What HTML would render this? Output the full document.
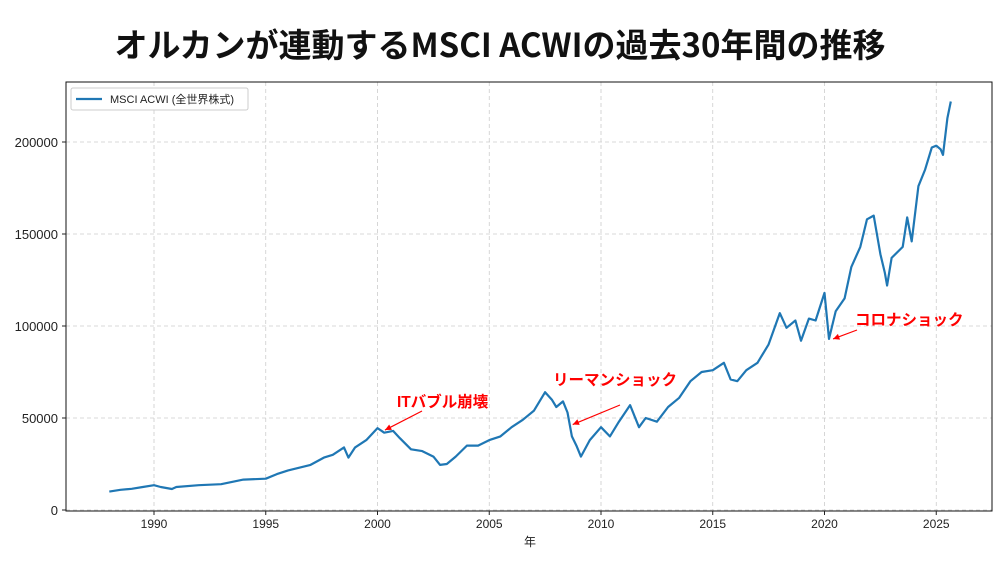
<!DOCTYPE html>
<html><head><meta charset="utf-8">
<style>
body{margin:0;background:#fff;width:1000px;height:562px;overflow:hidden}
svg{display:block;font-family:"Liberation Sans","Noto Sans CJK JP",sans-serif}
</style></head>
<body>
<svg id="chart" width="1000" height="562">
<text x="500" y="57" text-anchor="middle" font-size="33" font-weight="bold" fill="#111" style="font-family:'Noto Sans CJK JP',sans-serif">オルカンが連動するMSCI ACWIの過去30年間の推移</text>
<g id="grid"></g>
<rect x="66" y="82" width="926" height="429" fill="none" stroke="#111" stroke-width="1"/>
<g id="ticks"></g>
<path id="series" fill="none" stroke="#1f77b4" stroke-width="2.2" stroke-linejoin="round"/>
<g id="ann"></g>
<g>
<rect x="71" y="88" width="177" height="22" fill="#fff" stroke="#ccc" rx="2"/>
<line x1="76" y1="99" x2="102" y2="99" stroke="#1f77b4" stroke-width="2.2"/>
<text x="110" y="103" font-size="11" fill="#222">MSCI ACWI (全世界株式)</text>
</g>
<text x="530" y="546" font-size="12" text-anchor="middle" fill="#222">年</text>
</svg>
<script>
const years=[1988,1988.5,1989,1989.5,1990,1990.3,1990.8,1991,1992,1993,1994,1995,1995.5,1996,1997,1997.6,1998,1998.5,1998.7,1999,1999.5,2000,2000.3,2000.7,2001,2001.5,2002,2002.5,2002.8,2003.1,2003.5,2004,2004.5,2005,2005.5,2006,2006.5,2007,2007.5,2007.8,2008,2008.3,2008.5,2008.7,2008.9,2009.1,2009.5,2010,2010.4,2010.8,2011.3,2011.7,2012,2012.5,2013,2013.5,2014,2014.5,2015,2015.5,2015.8,2016.1,2016.5,2017,2017.5,2018,2018.3,2018.7,2018.95,2019.3,2019.6,2020,2020.2,2020.5,2020.9,2021.2,2021.6,2021.9,2022.2,2022.5,2022.7,2022.8,2023,2023.5,2023.7,2023.9,2024.2,2024.5,2024.8,2025,2025.2,2025.3,2025.5,2025.65];
const values=[10000,11000,11500,12500,13500,12500,11400,12500,13500,14000,16500,17000,19500,21500,24500,28500,30000,34000,28500,34000,38000,44500,42000,43000,39000,33000,32000,29000,24500,25000,29000,35000,35000,38000,40000,45000,49000,54000,64000,60000,56000,59000,53000,40000,35000,29000,38000,45000,40000,48000,57000,45000,50000,48000,56000,61000,70000,75000,76000,80000,71000,70000,76000,80000,90000,107000,99000,103000,92000,104000,103000,118000,93000,108000,115000,132000,143000,158000,160000,139000,129000,122000,137000,143000,159000,146000,176000,185000,197000,198000,196000,193000,213000,222000];
const xTicks=[1990,1995,2000,2005,2010,2015,2020,2025];
const yTicks=[0,50000,100000,150000,200000];
const annotations=[
 {label:"ITバブル崩壊",year:2000.2,value:44000,tx:397,ty:407,ax:422,ay:411},
 {label:"リーマンショック",year:2008.6,value:47000,tx:553,ty:385,ax:620,ay:405},
 {label:"コロナショック",year:2020.25,value:93500,tx:855,ty:325,ax:857,ay:330}
];
const NS="http://www.w3.org/2000/svg";
const xs=y=>154+(y-1990)*22.35;
const ys=v=>510-v*0.00184;
const grid=document.getElementById('grid'),ticks=document.getElementById('ticks');
function mk(tag,attrs,parent){const e=document.createElementNS(NS,tag);for(const k in attrs)e.setAttribute(k,attrs[k]);parent.appendChild(e);return e;}
xTicks.forEach(t=>{
 const g=mk('line',{x1:xs(t),x2:xs(t),y1:82,y2:511,stroke:'#ccc','stroke-dasharray':'4,3','stroke-width':0.8},grid);
 
 
 const tk=mk('line',{x1:xs(t),x2:xs(t),y1:511,y2:515,stroke:'#222'},ticks);
 
 
 const l=mk('text',{x:xs(t),y:528,'text-anchor':'middle','font-size':12,fill:'#222'},ticks);
 l.textContent=t;
 
 
});
yTicks.forEach(t=>{
 const g=mk('line',{x1:66,x2:992,y1:ys(t),y2:ys(t),stroke:'#ccc','stroke-dasharray':'4,3','stroke-width':0.8},grid);
 
 
 const tk=mk('line',{x1:62,x2:66,y1:ys(t),y2:ys(t),stroke:'#222'},ticks);
 
 
 const l=mk('text',{x:58,y:ys(t)+5,'text-anchor':'end','font-size':13,fill:'#222'},ticks);
 l.textContent=t;
 
 
});
document.getElementById('series').setAttribute('d',years.map((y,i)=>(i?'L':'M')+xs(y).toFixed(1)+','+ys(values[i]).toFixed(1)).join(''));
const ann=document.getElementById('ann');
annotations.forEach(a=>{
 const px=xs(a.year)+3,py=ys(a.value)+1;
 const ln=mk('line',{x1:a.ax,y1:a.ay,x2:px,y2:py,stroke:'red','stroke-width':1.2},ann);
 
 
 const ang=Math.atan2(py-a.ay,px-a.ax);
 const h=7,w=0.45;
 const p=`${px},${py} ${px-h*Math.cos(ang-w)},${py-h*Math.sin(ang-w)} ${px-h*Math.cos(ang+w)},${py-h*Math.sin(ang+w)}`;
 const hd=mk('polygon',{points:p,fill:'red'},ann);
 
 
 const t=mk('text',{x:a.tx,y:a.ty,'font-size':15.5,'font-weight':'bold',fill:'red'},ann);
 t.textContent=a.label;
 
 
});
</script>
</body></html>
